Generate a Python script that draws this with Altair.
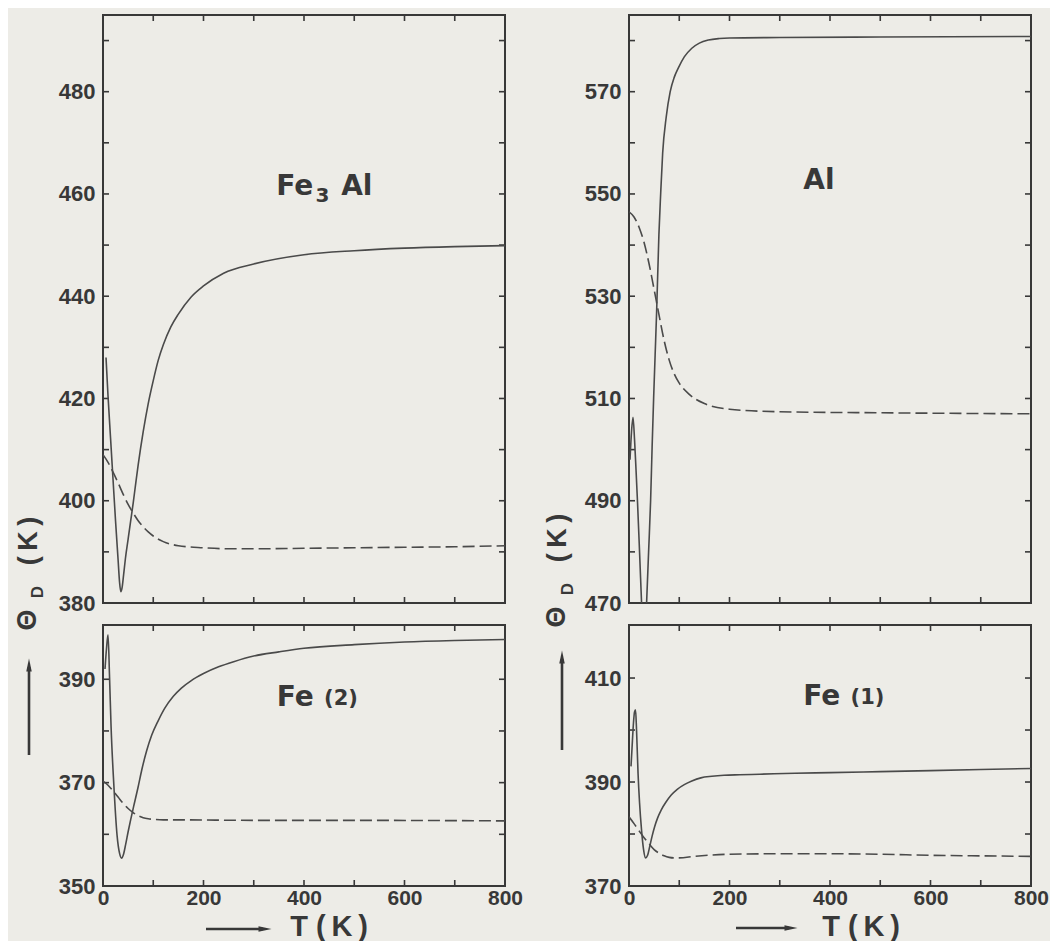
import altair as alt
import pandas as pd

# ---------------- values ----------------
T_LABELS = [0, 200, 400, 600, 800]
T_TICKS = [100, 200, 300, 400, 500, 600, 700]

# Fe3Al
FE3AL_SOLID_T = [6, 10, 15, 20, 25, 30, 33, 35.5, 38, 41, 45, 50, 55, 60, 65, 70, 80, 90, 100, 110,
                 120, 135, 150, 175, 200, 240, 300, 400, 500, 600, 700, 800]
FE3AL_SOLID_V = [428, 420.5, 412.3, 404.1, 396, 388.5, 384, 382.2, 383, 385.5, 389, 392.5, 396, 399.5,
                 403.3, 407, 413.5, 419, 423.5, 427.5, 430.5, 434, 436.5, 439.8, 442, 444.5, 446.3,
                 448.1, 448.9, 449.4, 449.7, 449.9]
FE3AL_DASH_T = [0, 10, 20, 30, 40, 50, 60, 70, 80, 90, 100, 120, 150, 200, 250, 300, 400, 500, 600, 700, 800]
FE3AL_DASH_V = [409, 407.5, 405.6, 403.5, 401.3, 399.3, 397.6, 396.1, 394.9, 393.9, 393.1, 392.0, 391.2,
                390.8, 390.6, 390.6, 390.7, 390.8, 390.9, 391.0, 391.2]
FE3AL_Y_LABELS = [380, 400, 420, 440, 460, 480]
FE3AL_Y_TICKS = [390, 400, 410, 420, 430, 440, 450, 460, 470, 480, 490]

# Al
AL_SOLID_T = [2, 5, 8, 11, 14, 17, 21, 25, 30, 35, 39, 43, 46, 49, 52, 55, 59.5, 63, 67, 74,
              82, 90, 98, 110, 125, 140, 158, 180, 200, 300, 500, 800]
AL_SOLID_V = [498, 503.5, 506.3, 502, 496, 489.6, 480, 470, 458, 470, 480, 490, 500.5, 510, 518.5, 527,
              542, 550, 558, 565, 570, 572.8, 574.6, 576.8, 578.5, 579.5, 580.1, 580.4, 580.5, 580.6,
              580.7, 580.8]
AL_DASH_T = [0, 10, 20, 30, 40, 50, 60, 70, 80, 90, 100, 120, 150, 200, 300, 500, 800]
AL_DASH_V = [546.5, 545.5, 543.5, 540.5, 536.3, 531.3, 526.2, 521.3, 517.5, 514.8, 513.0, 510.8, 509.0,
             507.9, 507.4, 507.2, 507.0]
AL_Y_LABELS = [470, 490, 510, 530, 550, 570]
AL_Y_TICKS = [480, 490, 500, 510, 520, 530, 540, 550, 560, 570, 580]

# Fe(2)
FE2_SOLID_T = [4, 7, 10, 13, 16, 21.6, 28, 33, 37, 41, 45, 50, 55, 61, 70, 77, 87, 97, 110, 123,
               140, 156, 175, 200, 230, 260, 300, 350, 400, 500, 600, 700, 800]
FE2_SOLID_V = [392, 396, 398.6, 390.5, 381, 369.5, 359.8, 356.3, 355.4, 356.2, 358, 360.5, 362.8, 365.4,
               369.2, 372.4, 376.2, 379.2, 382, 384.4, 386.7, 388.3, 389.7, 391.1, 392.4, 393.4, 394.5,
               395.3, 396, 396.7, 397.2, 397.5, 397.7]
FE2_DASH_T = [0, 10, 20, 30, 40, 50, 60, 70, 80, 90, 100, 120, 150, 300, 500, 800]
FE2_DASH_V = [370.3, 369.5, 368.4, 367.2, 366.0, 365.0, 364.2, 363.6, 363.2, 363.0, 362.9, 362.8, 362.8,
              362.7, 362.7, 362.6]
FE2_Y_LABELS = [350, 370, 390]
FE2_Y_TICKS = [360, 370, 380, 390]

# Fe(1)
FE1_SOLID_T = [4, 6, 9, 11, 13, 15, 18, 21, 25, 29, 33, 37, 41, 46, 51, 57, 64, 74, 84, 96,
               110, 125, 143, 165, 189, 220, 260, 330, 400, 500, 600, 700, 800]
FE1_SOLID_V = [393, 396.5, 401.5, 403.5, 403.9, 400, 391.7, 386, 380.7, 377, 375.4, 375.9, 377.5, 379.6,
               381.4, 383.1, 384.6, 386.2, 387.5, 388.6, 389.5, 390.2, 390.8, 391.1, 391.3, 391.4, 391.5,
               391.7, 391.8, 392, 392.2, 392.4, 392.6]
FE1_DASH_T = [0, 10, 20, 30, 40, 50, 60, 70, 80, 90, 100, 130, 200, 300, 400, 500, 600, 700, 800]
FE1_DASH_V = [383.3, 382.0, 380.6, 379.3, 378.1, 377.0, 376.3, 375.8, 375.5, 375.4, 375.4, 375.7, 376.1,
              376.2, 376.2, 376.1, 375.9, 375.8, 375.7]
FE1_Y_LABELS = [370, 390, 410]
FE1_Y_TICKS = [380, 390, 400, 410]

# panel names (parts: main text, subscript/small part)
FE3AL_NAME = ["Fe", "3", "Al"]
AL_NAME = ["Al"]
FE2_NAME = ["Fe", "(2)"]
FE1_NAME = ["Fe", "(1)"]
Y_TITLE = ["\u0398", "D", "(\u2009K\u2009)"]
X_TITLE = "T (\u2009K\u2009)"

# ---------------- styling / layout ----------------
FONT = "Liberation Sans"
NAME_FONT = "DejaVu Sans"
INK = "#383838"
CURVE = "#4a4a4a"
BG = "#edece7"
W = 402
H_TOP = 588
H_BOT = 261
TICK = 6


def one(label):
    return pd.DataFrame({"label": [label]})


def panel(solid_t, solid_v, dash_t, dash_v, y_dom, y_labels, y_ticks, height, show_x,
          name, name_pos):
    xs = alt.Scale(domain=[0, 800], nice=False, zero=False)
    ys = alt.Scale(domain=y_dom, nice=False, zero=False)
    if show_x:
        xaxis = alt.Axis(values=T_LABELS, title=None, ticks=False, domain=False, grid=False,
                         labelFlush=False, labelOverlap=False, labelPadding=1, labelFont=FONT,
                         labelFontSize=21, labelFontWeight="bold", labelColor=INK)
    else:
        xaxis = None
    yaxis = alt.Axis(values=y_labels, title=None, ticks=False, domain=False, grid=False,
                     labelOverlap=False, labelPadding=8, labelFont=FONT, labelFontSize=22,
                     labelFontWeight="bold", labelColor=INK)
    X = alt.X("T:Q", scale=xs, axis=xaxis)
    Y = alt.Y("V:Q", scale=ys, axis=yaxis)

    solid = alt.Chart(pd.DataFrame({"T": solid_t, "V": solid_v})).mark_line(
        clip=True, interpolate="monotone", color=CURVE, strokeWidth=1.6).encode(x=X, y=Y)
    dashed = alt.Chart(pd.DataFrame({"T": dash_t, "V": dash_v})).mark_line(
        clip=True, interpolate="monotone", color=CURVE, strokeWidth=1.6,
        strokeDash=[12, 5]).encode(x=X, y=Y)

    tx = pd.DataFrame({"T": T_TICKS})
    ty = pd.DataFrame({"V": y_ticks})
    rule = dict(color=INK, strokeWidth=1.6)
    t_bottom = alt.Chart(tx).mark_rule(**rule).encode(x=X, y=alt.value(height), y2=alt.value(height - TICK))
    t_top = alt.Chart(tx).mark_rule(**rule).encode(x=X, y=alt.value(0), y2=alt.value(TICK))
    t_left = alt.Chart(ty).mark_rule(**rule).encode(y=Y, x=alt.value(0), x2=alt.value(TICK))
    t_right = alt.Chart(ty).mark_rule(**rule).encode(y=Y, x=alt.value(W - TICK), x2=alt.value(W))

    layers = [t_bottom, t_top, t_left, t_right, dashed, solid]
    for part, (pt, pv, fs) in zip(name, name_pos):
        layers.append(
            alt.Chart(pd.DataFrame({"T": [pt], "V": [pv], "label": [part]})).mark_text(
                align="left", baseline="alphabetic", font=NAME_FONT, fontWeight="bold",
                fontSize=fs, color=INK).encode(x=X, y=Y, text="label:N"))
    return layers


def axis_titles(yx, yy, ysz, arrow_x, arrow_y1, arrow_y2, xt_x, xt_y, xa_x1, xa_x2, xa_y):
    out = []
    for part, px, py, fs in zip(Y_TITLE, yx, yy, ysz):
        out.append(alt.Chart(one(part)).mark_text(
            angle=270, align="center", baseline="middle", font=FONT, fontWeight="bold",
            fontSize=fs, color=INK).encode(x=alt.value(px), y=alt.value(py), text="label:N"))
    out.append(alt.Chart(one("a")).mark_rule(color=INK, strokeWidth=2.6).encode(
        x=alt.value(arrow_x), y=alt.value(arrow_y1 + 8), y2=alt.value(arrow_y2)))
    out.append(alt.Chart(one("a")).mark_point(
        shape="M0,-1L0.42,1L-0.42,1Z", filled=True, size=170, color=INK, opacity=1,
        strokeWidth=0).encode(x=alt.value(arrow_x), y=alt.value(arrow_y1 + 6)))
    out.append(alt.Chart(one(X_TITLE)).mark_text(
        align="center", baseline="alphabetic", font=FONT, fontWeight="bold", fontSize=29,
        color=INK).encode(x=alt.value(xt_x), y=alt.value(xt_y), text="label:N"))
    out.append(alt.Chart(one("a")).mark_rule(color=INK, strokeWidth=2.6).encode(
        x=alt.value(xa_x1), x2=alt.value(xa_x2 - 8), y=alt.value(xa_y)))
    out.append(alt.Chart(one("a")).mark_point(
        shape="M1,0L-1,-0.42L-1,0.42Z", filled=True, size=170, color=INK, opacity=1,
        strokeWidth=0).encode(x=alt.value(xa_x2 - 6), y=alt.value(xa_y)))
    return out


p_fe3al = alt.layer(*panel(
    FE3AL_SOLID_T, FE3AL_SOLID_V, FE3AL_DASH_T, FE3AL_DASH_V, [380, 495], FE3AL_Y_LABELS,
    FE3AL_Y_TICKS, H_TOP, False, FE3AL_NAME,
    [(345, 459.7, 28), (423, 458.4, 20), (474, 459.7, 28)])).properties(width=W, height=H_TOP)

p_al = alt.layer(*panel(
    AL_SOLID_T, AL_SOLID_V, AL_DASH_T, AL_DASH_V, [470, 585], AL_Y_LABELS, AL_Y_TICKS,
    H_TOP, False, AL_NAME, [(347, 551, 28)])).properties(width=W, height=H_TOP)

p_fe2 = alt.layer(*(panel(
    FE2_SOLID_T, FE2_SOLID_V, FE2_DASH_T, FE2_DASH_V, [350, 400.5], FE2_Y_LABELS, FE2_Y_TICKS,
    H_BOT, True, FE2_NAME, [(346, 384.8, 28), (440, 385.0, 21)]) + axis_titles(
    [-75, -65, -74], [-5, -33, -84], [27, 17, 27], -74, 34, 130,
    226, 311, 103, 168, 304))).properties(width=W, height=H_BOT)

p_fe1 = alt.layer(*(panel(
    FE1_SOLID_T, FE1_SOLID_V, FE1_DASH_T, FE1_DASH_V, [370, 420.2], FE1_Y_LABELS, FE1_Y_TICKS,
    H_BOT, True, FE1_NAME, [(347, 404.9, 28), (441, 405.1, 21)]) + axis_titles(
    [-72, -61, -71], [-8, -36, -87], [27, 17, 27], -67, 26, 125,
    232, 311, 107, 168, 303))).properties(width=W, height=H_BOT)

chart = alt.concat(
    p_fe3al, p_al, p_fe2, p_fe1, columns=2,
    spacing={"row": 22, "column": 124}, bounds="flush", align="each"
).properties(
    background=BG, padding={"left": 5, "top": 5, "right": 0, "bottom": 0}
).configure_view(stroke=INK, strokeWidth=2)

chart.save("out.html", embed_options={"renderer": "svg", "actions": False})
